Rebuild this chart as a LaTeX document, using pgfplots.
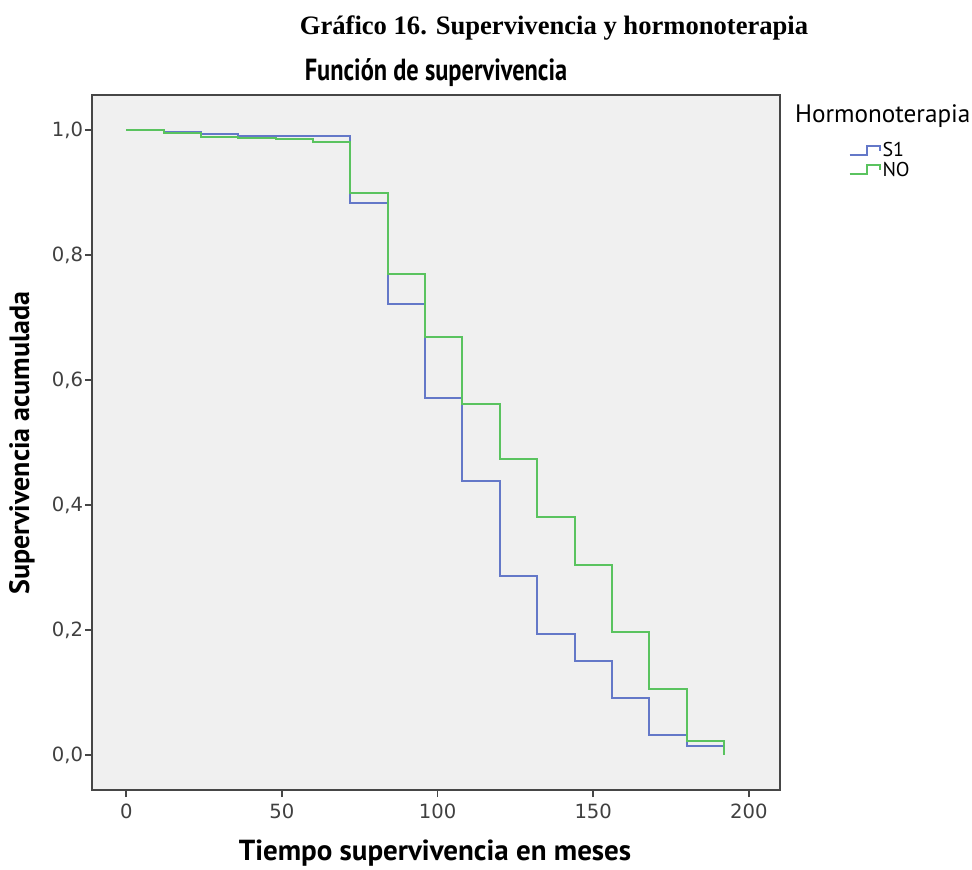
\documentclass[border=0pt]{standalone}
\usepackage{fontspec}
\setmainfont{Liberation Serif}
\newfontfamily\chartfont{PT Sans}
\newfontfamily\tickfont{DejaVu Sans}
\usepackage{pgfplots}
\pgfplotsset{compat=1.18}

\definecolor{bgGray}{RGB}{240,240,240}
\definecolor{siBlue}{RGB}{100,120,200}
\definecolor{noGreen}{RGB}{90,195,95}
\definecolor{frameGray}{RGB}{70,70,70}

\begin{document}
\begin{tikzpicture}[x=1pt,y=1pt]
\path[use as bounding box] (0,0) rectangle (486,434.5);

\node[font=\fontsize{13.3}{15}\selectfont\bfseries] at (277,420.5) {Gráfico 16. Supervivencia y hormonoterapia};
\node[font=\chartfont\fontsize{12.2}{15}\selectfont\bfseries, yscale=1.25] at (218,398) {Función de supervivencia};
\node[font=\chartfont\fontsize{14}{16}\selectfont\bfseries, rotate=90] at (11,213) {Supervivencia acumulada};
\node[font=\chartfont\fontsize{14.5}{16}\selectfont\bfseries] at (217.5,8) {Tiempo supervivencia en meses};
\node[font=\chartfont\fontsize{12.6}{14}\selectfont, anchor=west] at (394,376.5) {Hormonoterapia};

\begin{axis}[
  at={(46pt,39.5pt)}, anchor=south west,
  scale only axis, width=344pt, height=347.5pt,
  xmin=-11, xmax=210, ymin=-0.056, ymax=1.056,
  xtick={0,50,100,150,200},
  ytick={0,0.2,0.4,0.6,0.8,1.0},
  tick align=outside,
  major tick length=3.5pt,
  tick style={frameGray, line width=0.8pt},
  xtick pos=bottom, ytick pos=left,
  axis background/.style={fill=bgGray},
  axis line style={frameGray, line width=0.8pt},
  tick label style={font=\tickfont\fontsize{9.8}{11}\selectfont, text=black!75},
  yticklabel style={inner xsep=0.8pt},
  /pgf/number format/assume math mode=true,
  yticklabel style={/pgf/number format/.cd, use comma, fixed, fixed zerofill, precision=1},
  legend style={at={(1.099,0.935)}, anchor=north west, draw=none, fill=none,
    font=\chartfont\fontsize{10}{10}\selectfont, inner sep=0pt, row sep=-1pt,
    nodes={inner sep=1pt}},
  legend cell align=left,
  legend image code/.code={
    \draw[#1] (0pt,-2pt) -- (8.5pt,-2pt) -- (8.5pt,2.5pt) -- (15pt,2.5pt) -- (15pt,0pt);
  },
]
\addplot[const plot mark left, siBlue, line width=1pt] coordinates {
  (0,1.0) (12,0.9965) (24,0.993) (36,0.991) (48,0.990) (60,0.990)
  (72,0.883) (84,0.721) (96,0.572) (108,0.438) (120,0.286) (132,0.193)
  (144,0.150) (156,0.091) (168,0.032) (180,0.015) (192,0.0)
};
\addlegendentry{S1}
\addplot[const plot mark left, noGreen, line width=1pt] coordinates {
  (0,1.0) (12,0.995) (24,0.989) (36,0.987) (48,0.9855) (60,0.981)
  (72,0.899) (84,0.770) (96,0.669) (108,0.562) (120,0.474) (132,0.381)
  (144,0.304) (156,0.197) (168,0.106) (180,0.023) (192,0.0)
};
\addlegendentry{NO}
\end{axis}
\end{tikzpicture}
\end{document}
